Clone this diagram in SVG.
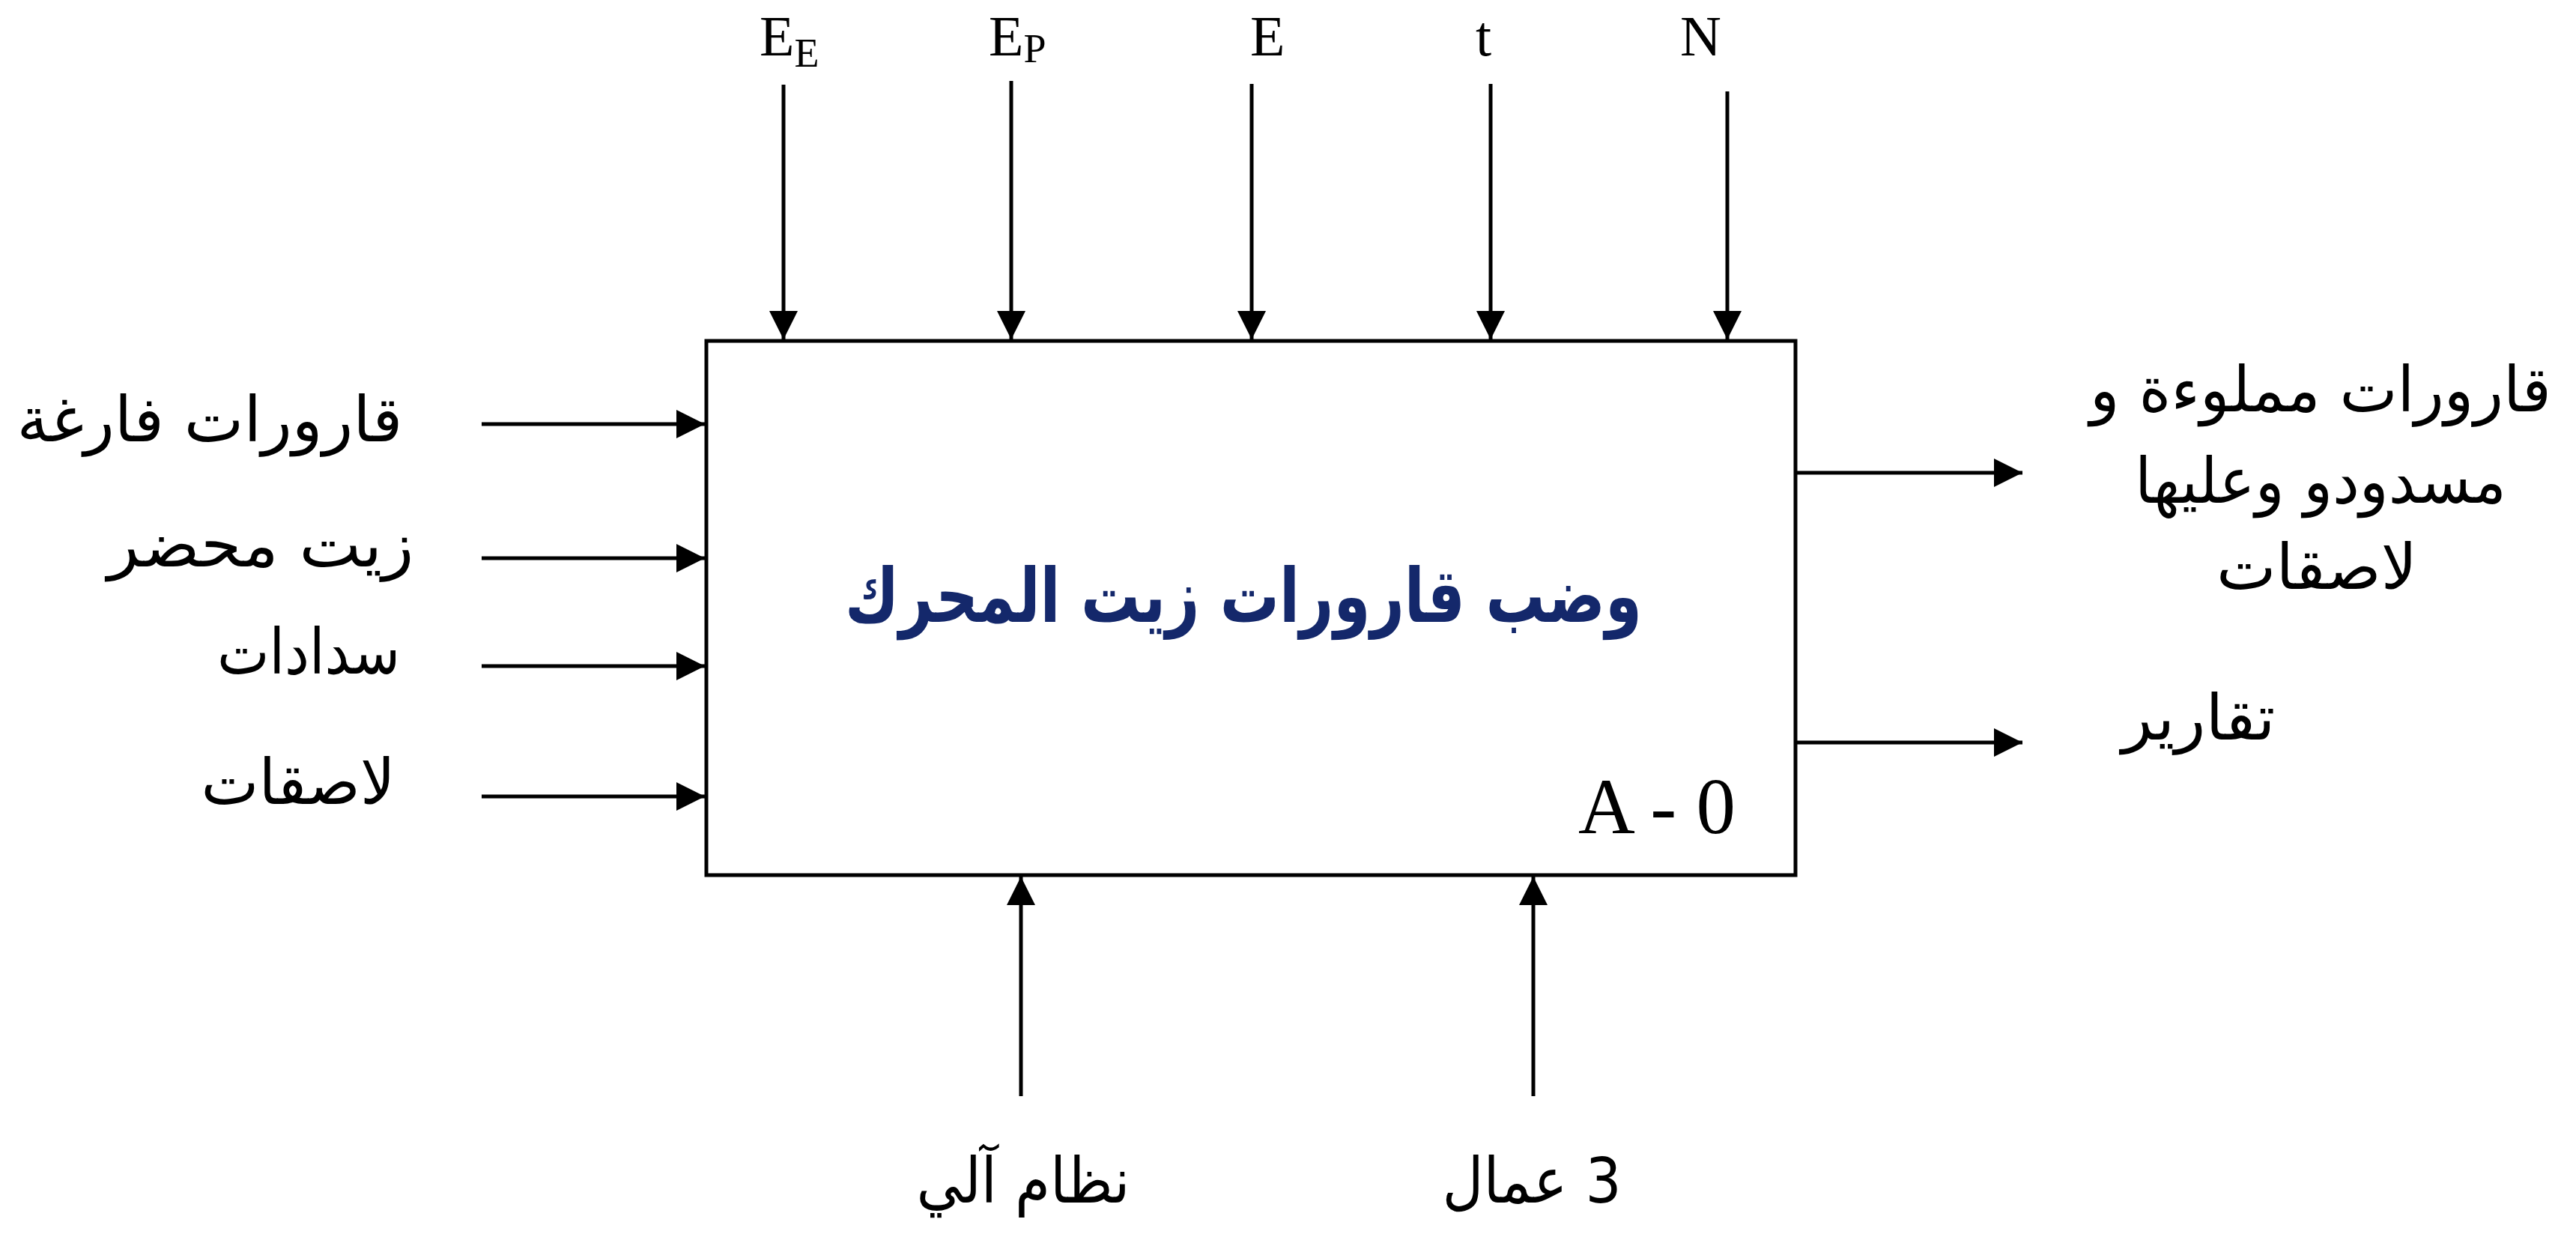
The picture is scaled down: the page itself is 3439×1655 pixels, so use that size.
<svg xmlns="http://www.w3.org/2000/svg" width="3439" height="1655" viewBox="0 0 3439 1655">
<style>
.ln{stroke:#000;stroke-width:5;fill:none}
.box{stroke:#000;stroke-width:5;fill:#fff}
.lat{font-family:"Liberation Serif","Times New Roman",serif;fill:#000}
.ar{font-family:"DejaVu Sans","Liberation Sans",sans-serif;font-size:84px;fill:#000;text-anchor:middle;direction:rtl}
.title{font-family:"DejaVu Sans","Liberation Sans",sans-serif;font-size:100px;font-weight:bold;fill:#14286b;text-anchor:middle;direction:rtl}
</style>
<defs>
<marker id="ah" markerUnits="userSpaceOnUse" markerWidth="38" markerHeight="38" refX="38" refY="19" orient="auto">
<path d="M0,0 L38,19 L0,38 z" fill="#000"/>
</marker>
</defs>
<rect width="3439" height="1655" fill="#fff"/>
<g id="connectors">
<line class="ln" x1="1046" y1="113" x2="1046" y2="453" marker-end="url(#ah)"/>
<line class="ln" x1="1350" y1="108" x2="1350" y2="453" marker-end="url(#ah)"/>
<line class="ln" x1="1671" y1="112" x2="1671" y2="453" marker-end="url(#ah)"/>
<line class="ln" x1="1990" y1="112" x2="1990" y2="453" marker-end="url(#ah)"/>
<line class="ln" x1="2306" y1="122" x2="2306" y2="453" marker-end="url(#ah)"/>
<line class="ln" x1="643" y1="566" x2="941" y2="566" marker-end="url(#ah)"/>
<line class="ln" x1="643" y1="745" x2="941" y2="745" marker-end="url(#ah)"/>
<line class="ln" x1="643" y1="889" x2="941" y2="889" marker-end="url(#ah)"/>
<line class="ln" x1="643" y1="1063" x2="941" y2="1063" marker-end="url(#ah)"/>
<line class="ln" x1="2397" y1="631" x2="2700" y2="631" marker-end="url(#ah)"/>
<line class="ln" x1="2397" y1="991" x2="2700" y2="991" marker-end="url(#ah)"/>
<line class="ln" x1="1363" y1="1463" x2="1363" y2="1170" marker-end="url(#ah)"/>
<line class="ln" x1="2047" y1="1463" x2="2047" y2="1170" marker-end="url(#ah)"/>
</g>
<g id="node-A0">
<rect class="box" x="943" y="455" width="1454" height="713"/>
<text class="title" x="1660" y="830" textLength="1064" lengthAdjust="spacingAndGlyphs">وضب قارورات زيت المحرك</text>
<text class="lat" x="2107" y="1112" font-size="105">A - 0</text>
</g>
<g id="controls">
<text class="lat" x="1014" y="74" font-size="76">E<tspan font-size="54" dy="15">E</tspan></text>
<text class="lat" x="1320" y="74" font-size="76">E<tspan font-size="54" dy="9">P</tspan></text>
<text class="lat" x="1669" y="74" font-size="76">E</text>
<text class="lat" x="1970" y="74" font-size="76">t</text>
<text class="lat" x="2243" y="74" font-size="76">N</text>
</g>
<g id="inputs">
<text class="ar" x="280" y="589" textLength="515" lengthAdjust="spacingAndGlyphs">قارورات فارغة</text>
<text class="ar" x="348" y="756" textLength="409" lengthAdjust="spacingAndGlyphs">زيت محضر</text>
<text class="ar" x="412" y="899" textLength="244" lengthAdjust="spacingAndGlyphs">سدادات</text>
<text class="ar" x="398" y="1073" textLength="259" lengthAdjust="spacingAndGlyphs">لاصقات</text>
</g>
<g id="outputs">
<text class="ar" x="3098" y="549" textLength="616" lengthAdjust="spacingAndGlyphs">قارورات مملوءة و</text>
<text class="ar" x="3098" y="671" textLength="496" lengthAdjust="spacingAndGlyphs">مسدودو وعليها</text>
<text class="ar" x="3093" y="786" textLength="268" lengthAdjust="spacingAndGlyphs">لاصقات</text>
<text class="ar" x="2935" y="987" textLength="205" lengthAdjust="spacingAndGlyphs">تقارير</text>
</g>
<g id="mechanisms">
<text class="ar" x="1366" y="1605" textLength="285" lengthAdjust="spacingAndGlyphs">نظام آلي</text>
<text class="ar" x="2045" y="1605" textLength="239" lengthAdjust="spacingAndGlyphs">3 عمال</text>
</g>
</svg>
